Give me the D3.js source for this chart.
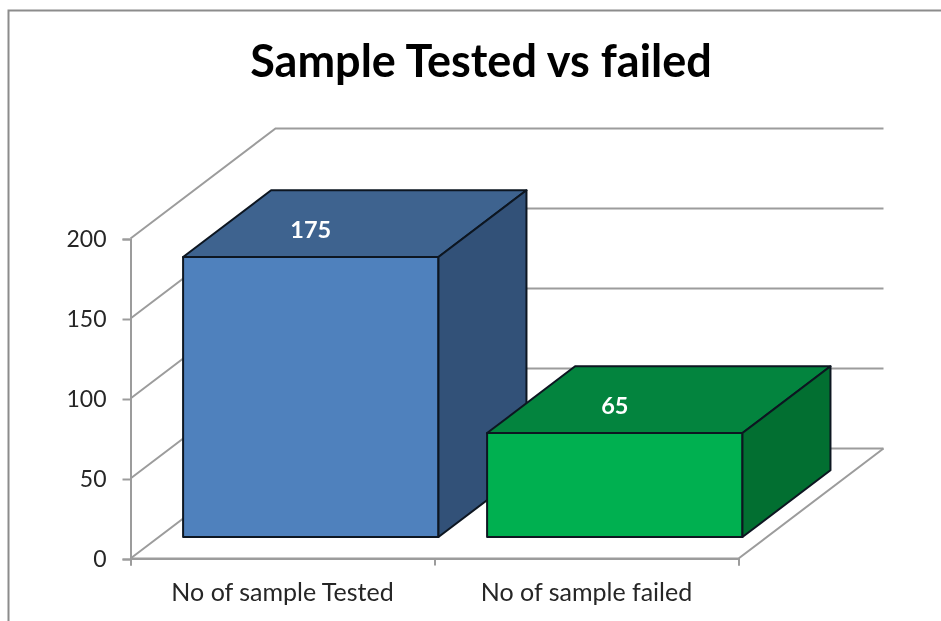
<!DOCTYPE html>
<html>
<head>
<meta charset="utf-8">
<script src="https://d3js.org/d3.v7.min.js"></script>
<style>
  html, body { margin: 0; padding: 0; background: #fff; }
  svg { display: block; filter: blur(0.4px); }
  text { font-family: Lato, Carlito, "Noto Sans", sans-serif; }
</style>
</head>
<body>
<div id="chart"></div>
<script>
const categories = ['No of sample Tested', 'No of sample failed'];
const values = [175, 65];
const yTicks = [0, 50, 100, 150, 200];
const titleText = 'Sample Tested vs failed';

const WIDTH = 941;
const HEIGHT = 621;
const GRID = '#9c9c9c';
const FACES = [
  { front: '#4f81bd', top: '#3e638f', side: '#325178' },
  { front: '#00b050', top: '#03843e', side: '#026f31' },
];

// oblique projection: depth 0 = front of the axes, 1 = back wall
const depthX = d3.scaleLinear().domain([0, 1]).range([0, 145]);
const depthY = d3.scaleLinear().domain([0, 1]).range([0, -110]);
const BAR_NEAR = 0.195;
const BAR_FAR = 0.802;

const x = d3.scaleBand().domain(categories).range([130.5, 738.5]).paddingInner(0.16).paddingOuter(0.08);
const xEdges = d3.scaleLinear().domain([0, categories.length]).range([130.5, 738.5]);
const y = d3.scaleLinear().domain([0, 200]).range([558.5, 238.5]);

const project = (px, value, depth) => [px + depthX(depth), y(value) + depthY(depth)];

const svg = d3.select('#chart').append('svg').attr('width', WIDTH).attr('height', HEIGHT);

// chart frame, only the top and left edges fall inside the picture
svg.append('path')
  .attr('d', `M8.5,${HEIGHT}V10.5H${WIDTH}`)
  .attr('fill', 'none')
  .attr('stroke', '#8c8c8c')
  .attr('stroke-width', 2);

svg.append('text')
  .attr('x', 481)
  .attr('y', 77)
  .attr('text-anchor', 'middle')
  .attr('font-size', '45px')
  .attr('font-weight', 700)
  .attr('fill', '#000')
  .text(titleText);

// walls and floor
const walls = svg.append('g').attr('fill', 'none').attr('stroke', GRID).attr('stroke-width', 2);
yTicks.forEach(v => {
  const a = project(xEdges(0), v, 0);
  const b = project(xEdges(0), v, 1);
  const c = project(xEdges(categories.length), v, 1);
  walls.append('path').attr('d', d3.line()([a, b, c]));
});
walls.append('path').attr('d', d3.line()([
  project(xEdges(categories.length), 0, 1),
  project(xEdges(categories.length), 0, 0),
  project(xEdges(0), 0, 0),
]));

const yAxis = svg.append('g')
  .attr('transform', `translate(${xEdges(0)},0.5)`)
  .call(d3.axisLeft(y).tickValues(yTicks).tickSize(8).tickPadding(16).tickFormat(d3.format('d')));
const xTicks = svg.append('g')
  .attr('transform', `translate(0,${y(0)})`)
  .call(d3.axisBottom(xEdges).tickValues(d3.range(categories.length + 1)).tickSize(7).tickFormat(''));
const xLabels = svg.append('g')
  .attr('transform', `translate(0,${y(0)})`)
  .call(d3.axisBottom(x).tickSize(0).tickPadding(25));

[yAxis, xTicks, xLabels].forEach(g => {
  g.selectAll('.domain').attr('stroke', GRID).attr('stroke-width', 2);
  g.selectAll('.tick line').attr('stroke', GRID).attr('stroke-width', 2);
  g.selectAll('text')
    .attr('font-family', 'Lato, Carlito, "Noto Sans", sans-serif')
    .attr('fill', '#262626');
});
yAxis.selectAll('text').attr('font-size', '23px');
xLabels.selectAll('text').attr('font-size', '25px');
xLabels.select('.domain').remove();

// bars
categories.forEach((cat, i) => {
  const x0 = x(cat);
  const x1 = x0 + x.bandwidth();
  const v = values[i];
  const g = svg.append('g').attr('stroke', '#0d1621').attr('stroke-width', 2).attr('stroke-linejoin', 'round');
  const face = (pts, fill) => g.append('path').attr('d', d3.line()(pts) + 'Z').attr('fill', fill);

  face([project(x0, 0, BAR_NEAR), project(x1, 0, BAR_NEAR), project(x1, v, BAR_NEAR), project(x0, v, BAR_NEAR)], FACES[i].front);
  face([project(x0, v, BAR_NEAR), project(x1, v, BAR_NEAR), project(x1, v, BAR_FAR), project(x0, v, BAR_FAR)], FACES[i].top);
  face([project(x1, 0, BAR_NEAR), project(x1, 0, BAR_FAR), project(x1, v, BAR_FAR), project(x1, v, BAR_NEAR)], FACES[i].side);

  const [lx, ly] = project(x0 + x.bandwidth() / 2, v, BAR_NEAR);
  svg.append('text')
    .attr('x', lx)
    .attr('y', ly - 19)
    .attr('text-anchor', 'middle')
    .attr('font-size', '23.5px')
    .attr('font-weight', 700)
    .attr('fill', '#fff')
    .text(d3.format('d')(v));
});
</script>
</body>
</html>
